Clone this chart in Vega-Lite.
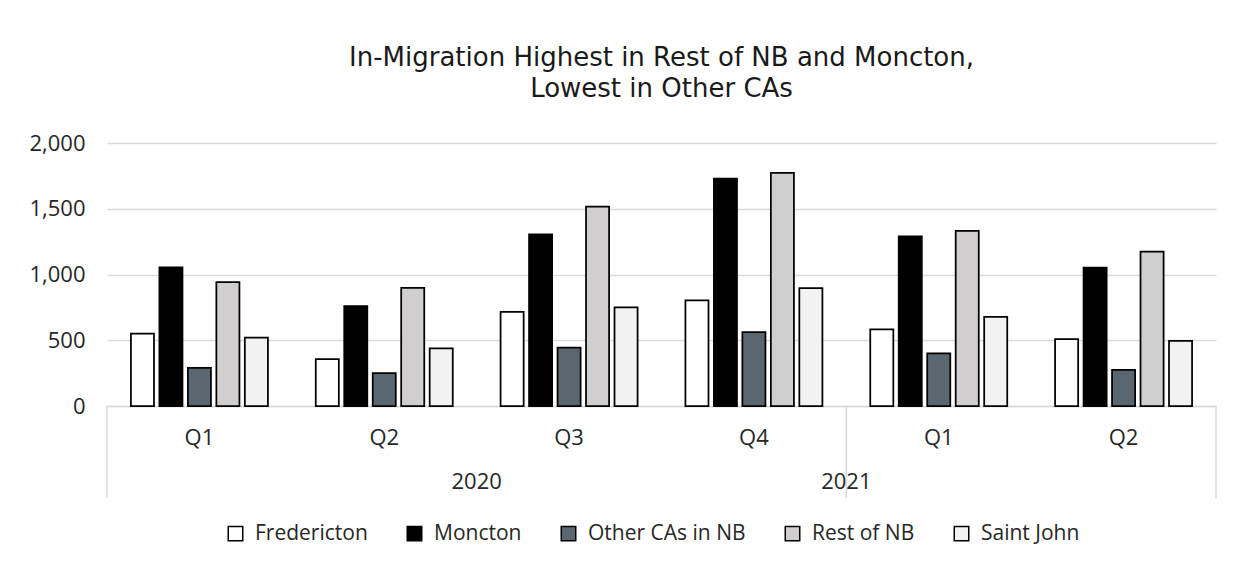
{
  "$schema": "https://vega.github.io/schema/vega-lite/v6.json",
  "autosize": {"type": "none"},
  "width": 1109,
  "height": 263,
  "padding": {"left": 107, "top": 143, "right": 28, "bottom": 160},
  "background": "white",
  "title": {
    "text": ["In-Migration Highest in Rest of NB and Moncton,", "Lowest in Other CAs"],
    "fontSize": 26,
    "font": "DejaVu Sans",
    "fontWeight": "normal",
    "color": "#1a1a1a",
    "lineHeight": 31,
    "anchor": "middle",
    "offset": 30
  },
  "config": {
    "font": "Open Sans",
    "view": {"stroke": null}
  },
  "datasets": {
    "bars": [
      {"key": "2020 Q1", "series": "Fredericton", "value": 551},
      {"key": "2020 Q1", "series": "Moncton", "value": 1055},
      {"key": "2020 Q1", "series": "Other CAs in NB", "value": 290},
      {"key": "2020 Q1", "series": "Rest of NB", "value": 942},
      {"key": "2020 Q1", "series": "Saint John", "value": 520},
      {"key": "2020 Q2", "series": "Fredericton", "value": 356},
      {"key": "2020 Q2", "series": "Moncton", "value": 760},
      {"key": "2020 Q2", "series": "Other CAs in NB", "value": 250},
      {"key": "2020 Q2", "series": "Rest of NB", "value": 899},
      {"key": "2020 Q2", "series": "Saint John", "value": 439},
      {"key": "2020 Q3", "series": "Fredericton", "value": 715},
      {"key": "2020 Q3", "series": "Moncton", "value": 1306},
      {"key": "2020 Q3", "series": "Other CAs in NB", "value": 444},
      {"key": "2020 Q3", "series": "Rest of NB", "value": 1517},
      {"key": "2020 Q3", "series": "Saint John", "value": 750},
      {"key": "2020 Q4", "series": "Fredericton", "value": 803},
      {"key": "2020 Q4", "series": "Moncton", "value": 1730},
      {"key": "2020 Q4", "series": "Other CAs in NB", "value": 561},
      {"key": "2020 Q4", "series": "Rest of NB", "value": 1773},
      {"key": "2020 Q4", "series": "Saint John", "value": 896},
      {"key": "2021 Q1", "series": "Fredericton", "value": 583},
      {"key": "2021 Q1", "series": "Moncton", "value": 1290},
      {"key": "2021 Q1", "series": "Other CAs in NB", "value": 401},
      {"key": "2021 Q1", "series": "Rest of NB", "value": 1331},
      {"key": "2021 Q1", "series": "Saint John", "value": 677},
      {"key": "2021 Q2", "series": "Fredericton", "value": 508},
      {"key": "2021 Q2", "series": "Moncton", "value": 1053},
      {"key": "2021 Q2", "series": "Other CAs in NB", "value": 275},
      {"key": "2021 Q2", "series": "Rest of NB", "value": 1174},
      {"key": "2021 Q2", "series": "Saint John", "value": 495}
    ],
    "cats": [
      {"key": "2020 Q1", "quarter": "Q1"},
      {"key": "2020 Q2", "quarter": "Q2"},
      {"key": "2020 Q3", "quarter": "Q3"},
      {"key": "2020 Q4", "quarter": "Q4"},
      {"key": "2021 Q1", "quarter": "Q1"},
      {"key": "2021 Q2", "quarter": "Q2"}
    ],
    "years": [
      {"key": "2020 Q3", "year": "2020"},
      {"key": "2021 Q1", "year": "2021"}
    ],
    "startSeps": [
      {"key": "2020 Q1"},
      {"key": "2021 Q1"}
    ],
    "endSeps": [
      {"key": "2021 Q2"}
    ]
  },
  "layer": [
    {
      "data": {"name": "bars"},
      "mark": {"type": "bar", "stroke": "#000000", "strokeWidth": 1.75},
      "encoding": {
        "x": {
          "field": "key",
          "type": "nominal",
          "scale": {
            "domain": ["2020 Q1", "2020 Q2", "2020 Q3", "2020 Q4", "2021 Q1", "2021 Q2"],
            "paddingInner": 0,
            "paddingOuter": 0
          },
          "axis": {
            "title": null,
            "labels": false,
            "ticks": false,
            "domain": true,
            "domainColor": "#d9d9d9",
            "domainWidth": 1.5,
            "grid": false
          }
        },
        "xOffset": {
          "field": "series",
          "type": "nominal",
          "scale": {"paddingInner": 0.19, "paddingOuter": 0.84}
        },
        "y": {
          "field": "value",
          "type": "quantitative",
          "scale": {"domain": [0, 2000], "nice": false, "zero": true},
          "axis": {
            "title": null,
            "values": [0, 500, 1000, 1500, 2000],
            "labelExpr": "format(datum.value, ',')",
            "domain": false,
            "ticks": false,
            "grid": true,
            "gridColor": "#d9d9d9",
            "gridWidth": 1.5,
            "labelFontSize": 22,
            "labelColor": "#262626",
            "labelPadding": 22,
            "labelFont": "Open Sans"
          }
        },
        "fill": {
          "field": "series",
          "type": "nominal",
          "scale": {
            "domain": ["Fredericton", "Moncton", "Other CAs in NB", "Rest of NB", "Saint John"],
            "range": ["#ffffff", "#000000", "#5b6770", "#d0cece", "#f2f2f2"]
          },
          "legend": {
            "title": null,
            "orient": "none",
            "direction": "horizontal",
            "legendX": 118,
            "legendY": 380,
            "symbolType": "square",
            "symbolSize": 210,
            "symbolStrokeColor": "#000000",
            "symbolStrokeWidth": 1.5,
            "labelFontSize": 21,
            "labelColor": "#262626",
            "labelFont": "Open Sans",
            "labelOffset": 9,
            "columnPadding": 36
          }
        }
      }
    },
    {
      "data": {"name": "startSeps"},
      "mark": {"type": "rule", "color": "#d9d9d9", "strokeWidth": 1.5},
      "encoding": {
        "x": {"field": "key", "type": "nominal", "bandPosition": 0},
        "y": {"datum": 0},
        "y2": {"datum": -700}
      }
    },
    {
      "data": {"name": "endSeps"},
      "mark": {"type": "rule", "color": "#d9d9d9", "strokeWidth": 1.5},
      "encoding": {
        "x": {"field": "key", "type": "nominal", "bandPosition": 1},
        "y": {"datum": 0},
        "y2": {"datum": -700}
      }
    },
    {
      "data": {"name": "cats"},
      "mark": {"type": "text", "fontSize": 22, "color": "#262626", "baseline": "middle", "align": "center"},
      "encoding": {
        "x": {"field": "key", "type": "nominal"},
        "y": {"datum": -243},
        "text": {"field": "quarter"}
      }
    },
    {
      "data": {"name": "years"},
      "mark": {"type": "text", "fontSize": 22, "color": "#262626", "baseline": "middle", "align": "center"},
      "encoding": {
        "x": {"field": "key", "type": "nominal", "bandPosition": 0},
        "y": {"datum": -578},
        "text": {"field": "year"}
      }
    }
  ]
}
